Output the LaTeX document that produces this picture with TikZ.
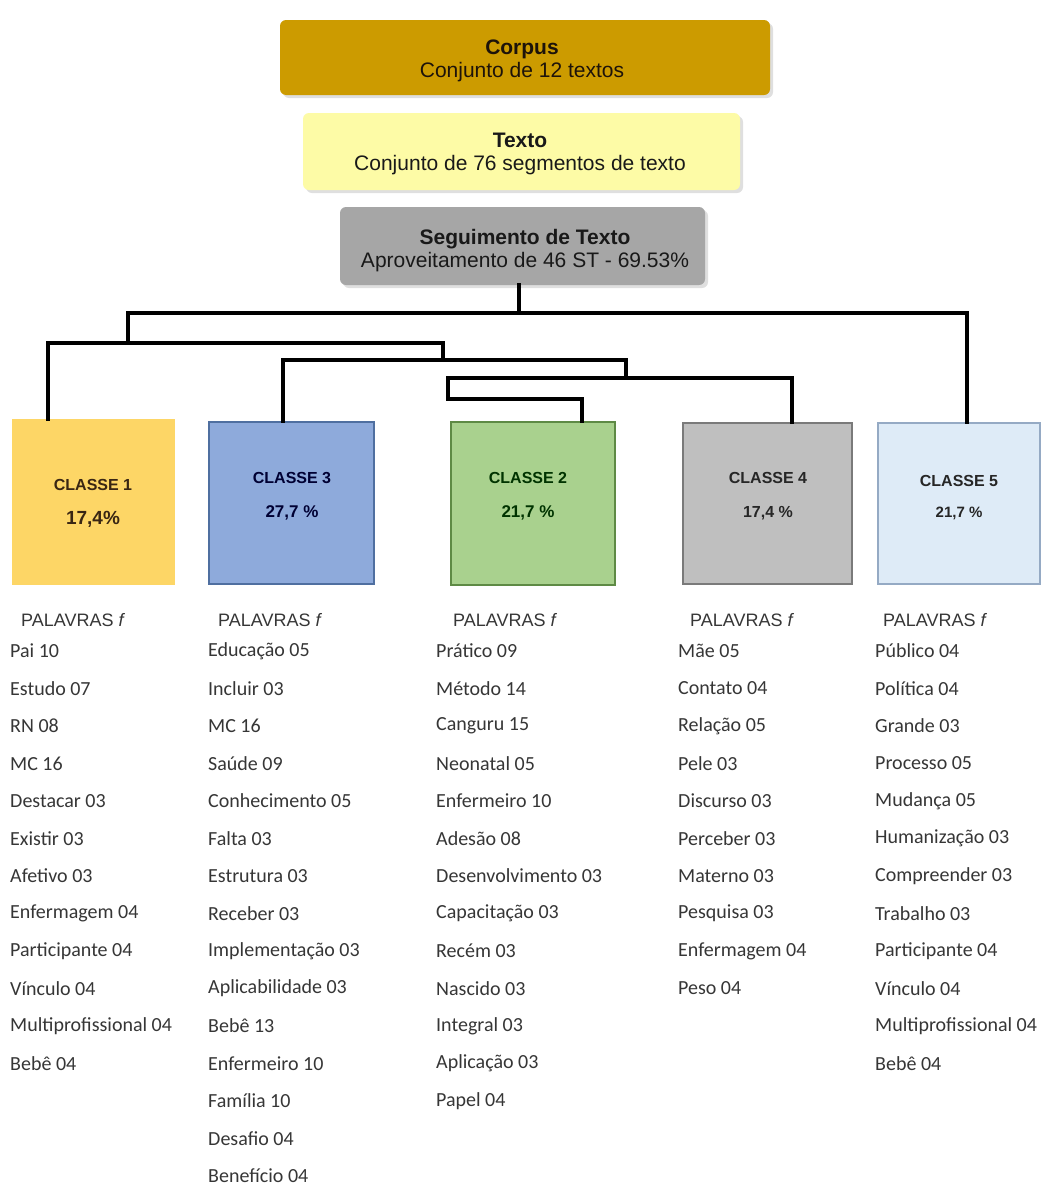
\documentclass[tikz,border=0pt]{standalone}
\usepackage{fontspec}
\setmainfont{Liberation Sans}
\newfontfamily\wordfont{Carlito}
\usetikzlibrary{shadows}
\definecolor{corpusfill}{HTML}{CC9B00}
\definecolor{textofill}{HTML}{FDFBA6}
\definecolor{segfill}{HTML}{A6A6A6}
\definecolor{cAfill}{HTML}{FDD666}
\definecolor{cBfill}{HTML}{8EAADB}
\definecolor{cBdraw}{HTML}{4F6FA0}
\definecolor{cCfill}{HTML}{A9D18E}
\definecolor{cCdraw}{HTML}{5E8A45}
\definecolor{cDfill}{HTML}{BFBFBF}
\definecolor{cDdraw}{HTML}{7A7A7A}
\definecolor{cEfill}{HTML}{DEEBF7}
\definecolor{cEdraw}{HTML}{95AAC4}
\definecolor{wordcol}{HTML}{363636}
\tikzset{
  topbox/.style={rectangle, rounded corners=6pt, inner sep=0pt,
    drop shadow={opacity=0.25, shadow xshift=3pt, shadow yshift=-3pt}},
  toptext/.style={align=center, inner sep=0pt, font=\fontsize{21}{23}\selectfont},
  dend/.style={line width=3.6pt, black, line cap=rect},
  classbox/.style={rectangle, line width=1.2pt, inner sep=0pt},
  classlbl/.style={font=\bfseries\fontsize{16}{18}\selectfont},
  pctlbl/.style={font=\bfseries\fontsize{17}{19}\selectfont},
  headlbl/.style={anchor=west, inner sep=0pt, text=wordcol, font=\fontsize{18}{20}\selectfont},
  wordlbl/.style={anchor=west, inner sep=0pt, text=wordcol, font=\wordfont\fontsize{20}{22}\selectfont}
}
\begin{document}
\begin{tikzpicture}[x=1pt,y=-1pt]
\useasboundingbox[fill=white] (0,0) rectangle (1043,1186);

% top boxes
\node[topbox, fill=corpusfill, minimum width=490pt, minimum height=75pt] (corpus) at (525,57.5) {};
\node[toptext, text=black!85!brown] (corpust) at (522,60.5) {\textbf{Corpus}\\Conjunto de 12 textos};
\node[topbox, fill=textofill, minimum width=437pt, minimum height=77pt] (texto) at (521.5,151.5) {};
\node[toptext, text=black!90] (textot) at (520,153.5) {\textbf{Texto}\\Conjunto de 76 segmentos de texto};
\node[topbox, fill=segfill, minimum width=365pt, minimum height=78pt] (seg) at (522.5,246) {};
\node[toptext, text=black!90] (segt) at (525,251) {\textbf{Seguimento de Texto}\\Aproveitamento de 46 ST - 69.53\%};

% class boxes
\node[classbox, fill=cAfill, draw=cAfill, minimum width=161pt, minimum height=164pt] (c1) at (93.5,502) {};
\node[classbox, fill=cBfill, draw=cBdraw, minimum width=165pt, minimum height=162pt] (c3) at (291.5,503) {};
\node[classbox, fill=cCfill, draw=cCdraw, minimum width=164pt, minimum height=163pt] (c2) at (533,503.5) {};
\node[classbox, fill=cDfill, draw=cDdraw, minimum width=169pt, minimum height=161pt] (c4) at (767.5,503.5) {};
\node[classbox, fill=cEfill, draw=cEdraw, minimum width=162pt, minimum height=161pt] (c5) at (959,503.5) {};

\node[classlbl, text=black!70!brown] (c1t) at (93,485) {CLASSE 1};
\node[pctlbl, text=black!70!brown, font=\bfseries\fontsize{19}{21}\selectfont] (c1p) at (93,519) {17,4\%};
\node[classlbl, text=black!80!blue] (c3t) at (292,478) {CLASSE 3};
\node[pctlbl, text=black!80!blue] (c3p) at (292,513) {27,7 \%};
\node[classlbl, text=black!80!green] (c2t) at (528,478) {CLASSE 2};
\node[pctlbl, text=black!80!green] (c2p) at (528,513) {21,7 \%};
\node[classlbl, text=black!85] (c4t) at (768,478) {CLASSE 4};
\node[pctlbl, text=black!85, font=\bfseries\fontsize{16}{18}\selectfont] (c4p) at (768,513) {17,4 \%};
\node[classlbl, text=black!85] (c5t) at (959,481) {CLASSE 5};
\node[pctlbl, text=black!85, font=\bfseries\fontsize{15}{17}\selectfont] (c5p) at (959,513) {21,7 \%};

% dendrogram junctions
\coordinate (t0) at (519,313);
\coordinate (tL) at (128,313);
\coordinate (tR) at (967,313);
\coordinate (aL) at (48,343);
\coordinate (aR) at (443,343);
\coordinate (bL) at (283,360);
\coordinate (bR) at (626,360);
\coordinate (cL) at (448,378);
\coordinate (cR) at (792,378);
\coordinate (dL) at (448,399);
\coordinate (dR) at (582,399);

\draw[dend] (seg.south -| t0) -- (t0);
\draw[dend] (tL) -- (tR);
\draw[dend] (tR) -- (tR |- c5.north);
\draw[dend] (tL) -- (tL |- aL);
\draw[dend] (aL) -- (aR);
\draw[dend] (aL) -- (aL |- c1.north);
\draw[dend] (aR) -- (aR |- bL);
\draw[dend] (bL) -- (bR);
\draw[dend] (bL) -- (bL |- c3.north);
\draw[dend] (bR) -- (bR |- cL);
\draw[dend] (cL) -- (cR);
\draw[dend] (cR) -- (cR |- c4.north);
\draw[dend] (cL) -- (dL);
\draw[dend] (dL) -- (dR);
\draw[dend] (dR) -- (dR |- c2.north);

% headers
\node[headlbl] (h1) at (21,620) {PALAVRAS \textit{f}};
\node[headlbl] (h3) at (218,620) {PALAVRAS \textit{f}};
\node[headlbl] (h2) at (453,620) {PALAVRAS \textit{f}};
\node[headlbl] (h4) at (690,620) {PALAVRAS \textit{f}};
\node[headlbl] (h5) at (883,620) {PALAVRAS \textit{f}};

% word lists
\foreach \w [count=\i from 0] in {Pai 10, Estudo 07, RN 08, MC 16, Destacar 03, Existir 03, Afetivo 03, Enfermagem 04, Participante 04, Vínculo 04, Multiprofissional 04, Bebê 04}
  \node[wordlbl] (wa\i) at (10,651+37.5*\i) {\w};
\foreach \w [count=\i from 0] in {Educação 05, Incluir 03, MC 16, Saúde 09, Conhecimento 05, Falta 03, Estrutura 03, Receber 03, Implementação 03, Aplicabilidade 03, Bebê 13, Enfermeiro 10, Família 10, Desafio 04, Benefício 04}
  \node[wordlbl] (wb\i) at (208,651+37.5*\i) {\w};
\foreach \w [count=\i from 0] in {Prático 09, Método 14, Canguru 15, Neonatal 05, Enfermeiro 10, Adesão 08, Desenvolvimento 03, Capacitação 03, Recém 03, Nascido 03, Integral 03, Aplicação 03, Papel 04}
  \node[wordlbl] (wc\i) at (436,651+37.5*\i) {\w};
\foreach \w [count=\i from 0] in {Mãe 05, Contato 04, Relação 05, Pele 03, Discurso 03, Perceber 03, Materno 03, Pesquisa 03, Enfermagem 04, Peso 04}
  \node[wordlbl] (wd\i) at (678,651+37.5*\i) {\w};
\foreach \w [count=\i from 0] in {Público 04, Política 04, Grande 03, Processo 05, Mudança 05, Humanização 03, Compreender 03, Trabalho 03, Participante 04, Vínculo 04, Multiprofissional 04, Bebê 04}
  \node[wordlbl] (we\i) at (875,651+37.5*\i) {\w};
\end{tikzpicture}
\end{document}
